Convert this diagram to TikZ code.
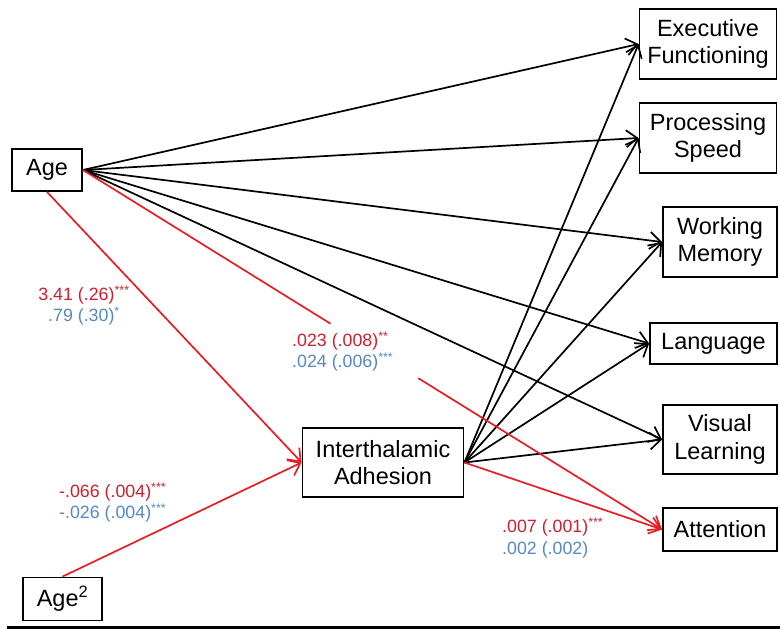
\documentclass[tikz,border=0pt]{standalone}
\usepackage{fontspec}
\setmainfont{Liberation Sans}
\usetikzlibrary{arrows.meta,calc}
\definecolor{lred}{RGB}{228,30,36}
\definecolor{tred}{RGB}{205,30,45}
\definecolor{tblue}{RGB}{85,135,195}
\newcommand\sigst[1]{\textsuperscript{#1}}
\begin{document}
\begin{tikzpicture}[x=1pt,y=-1pt,
  box/.style={draw,line width=1.8pt,align=center,font=\fontsize{23.5}{27.5}\selectfont,inner sep=0pt},
  blk/.style={line width=1.7pt,-{Straight Barb[length=11pt,width=17pt,line width=1.7pt]}},
  rd/.style={blk,draw=lred},
  rdplain/.style={line width=1.7pt,draw=lred},
  lab/.style={font=\fontsize{17.8}{21}\selectfont,inner sep=0pt},
  ]
\useasboundingbox (0,0) rectangle (780,629);
% nodes
\node[box,minimum width=70pt,minimum height=42pt] (age) at (47,170) {Age};
\node[box,minimum width=79pt,minimum height=43pt] (age2) at (62.5,599) {Age\textsuperscript{2}};
\node[box,minimum width=161pt,minimum height=69pt] (ia) at (383,462.5) {Interthalamic\\Adhesion};
\node[box,minimum width=137pt,minimum height=70pt] (ef) at (708,44) {Executive\\Functioning};
\node[box,minimum width=137pt,minimum height=70pt] (ps) at (708,138) {Processing\\Speed};
\node[box,minimum width=114pt,minimum height=70pt] (wm) at (720,242) {Working\\Memory};
\node[box,minimum width=127pt,minimum height=41pt] (lang) at (713.5,343.5) {Language};
\node[box,minimum width=114pt,minimum height=69pt] (vl) at (720,439.5) {Visual\\Learning};
\node[box,minimum width=114pt,minimum height=43pt] (att) at (720,529.5) {Attention};
% black connectors
\foreach \t in {ef,ps,wm,lang,vl}{
  \draw[blk] (age.east) -- (\t.west);
  \draw[blk] (ia.east) -- (\t.west);
}
% red connectors
\coordinate (g1) at ($(age.east)!0.4276!(att.west)$);
\coordinate (g2) at ($(age.east)!0.579!(att.west)$);
\draw[rdplain] (age.east) -- (g1);
\draw[rd] (g2) -- (att.west);
\draw[rd] (ia.east) -- (att.west);
\draw[rd] (age.south) -- (ia.west);
\draw[rd] (age2.north) -- (ia.west);
% labels
\node[lab,align=center] (l1) at (84,305.5) {\textcolor{tred}{3.41 (.26)\sigst{***}}\\\textcolor{tblue}{.79 (.30)\sigst{*}}};
\node[lab,align=left,anchor=west] (l2) at (292,351.5) {\textcolor{tred}{.023 (.008)\sigst{**}}\\\textcolor{tblue}{.024 (.006)\sigst{***}}};
\node[lab,align=left,anchor=west] (l3) at (59,502.5) {\textcolor{tred}{-.066 (.004)\sigst{***}}\\\textcolor{tblue}{-.026 (.004)\sigst{***}}};
\node[lab,align=left,anchor=west] (l4) at (502,538) {\textcolor{tred}{.007 (.001)\sigst{***}}\\[1pt]\textcolor{tblue}{.002 (.002)}};
% bottom rule
\draw[line width=3pt] (7,627) -- (780,627);
\end{tikzpicture}
\end{document}
